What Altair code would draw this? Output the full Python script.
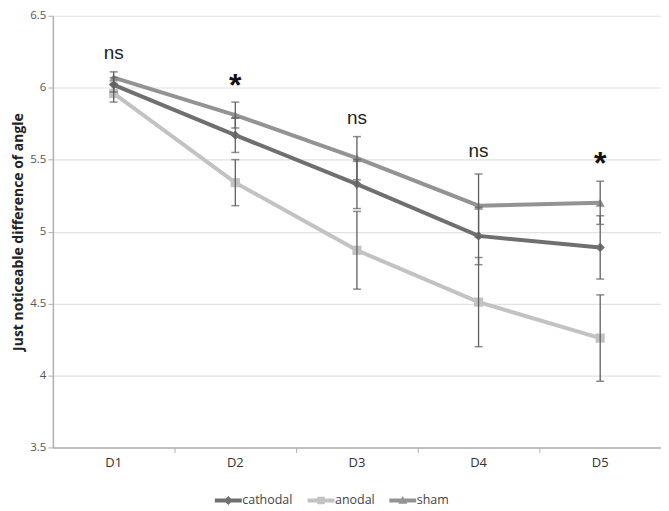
import altair as alt
import pandas as pd

days = ["D1", "D2", "D3", "D4", "D5"]
series_names = ["cathodal", "anodal", "sham"]
cathodal_mean = [6.02, 5.67, 5.33, 4.97, 4.89]
cathodal_err = [0.05, 0.12, 0.17, 0.20, 0.22]
anodal_mean = [5.96, 5.34, 4.87, 4.51, 4.26]
anodal_err = [0.06, 0.16, 0.27, 0.31, 0.30]
sham_mean = [6.07, 5.81, 5.51, 5.18, 5.20]
sham_err = [0.04, 0.09, 0.15, 0.22, 0.15]
ann_text = ["ns", "*", "ns", "ns", "*"]
ann_y = [6.24, 6.03, 5.79, 5.56, 5.49]

rows = []
for name, means, errs in [("cathodal", cathodal_mean, cathodal_err),
                          ("anodal", anodal_mean, anodal_err),
                          ("sham", sham_mean, sham_err)]:
    for d, m, e in zip(days, means, errs):
        rows.append({"day": d, "series": name, "mean": m, "lo": m - e, "hi": m + e})
df = pd.DataFrame(rows)
ann = pd.DataFrame({"day": days, "text": ann_text, "y": ann_y,
                    "star": [t == "*" for t in ann_text]})

colors = ["#6f6f6f", "#c2c2c2", "#939393"]
shapes = ["diamond", "square", "triangle-up"]
line_bar = "M-1.35,-0.2H1.35V0.2H-1.35Z"
legend_shapes = [
    line_bar + " M0,-0.45L0.45,0L0,0.45L-0.45,0Z",
    line_bar + " M-0.38,-0.38H0.38V0.38H-0.38Z",
    line_bar + " M0,-0.45L0.45,0.32H-0.45Z",
]

xscale = alt.Scale(domain=days, paddingInner=0, paddingOuter=0)
yscale = alt.Scale(domain=[3.5, 6.5], nice=False, zero=False)
color_nol = alt.Color("series:N", scale=alt.Scale(domain=series_names, range=colors),
                      legend=None)
shape_nol = alt.Shape("series:N", scale=alt.Scale(domain=series_names, range=shapes),
                      legend=None)
xn = alt.X("day:N", scale=xscale, sort=days, axis=None)

x_labels = alt.X("day:N", scale=xscale, sort=days,
                 axis=alt.Axis(title=None, labelAngle=0, ticks=False, labelFontSize=13,
                               labelColor="#333", labelFont="Open Sans", labelPadding=9,
                               domainColor="#b0b0b0", domainWidth=1.5, orient="bottom"))
y_enc = alt.Y("mean:Q", scale=yscale,
              axis=alt.Axis(title="Just noticeable difference of angle",
                            values=[3.5, 4, 4.5, 5, 5.5, 6, 6.5], format="~g",
                            labelFontSize=11.5, labelColor="#555", labelFont="Open Sans",
                            titleFontSize=14, titleFontWeight="bold", titleColor="#222",
                            titleFont="Open Sans", titlePadding=4,
                            domainColor="#b0b0b0", domainWidth=1.5, tickColor="#b0b0b0",
                            tickSize=5, gridColor="#e2e2e2", gridWidth=1.2))

base = alt.Chart(df)

lines = base.mark_line(strokeWidth=4).encode(x=x_labels, y=y_enc, color=color_nol,
                                              detail="series:N")
points = base.mark_point(filled=True, size=85, opacity=1).encode(
    x=xn, y=alt.Y("mean:Q", scale=yscale), color=color_nol, shape=shape_nol)
rules = base.mark_rule(color="#5e5e5e", strokeWidth=1.3).encode(
    x=xn, y=alt.Y("lo:Q", scale=yscale), y2="hi:Q")
ticks_lo = base.mark_tick(color="#5e5e5e", thickness=1.5, size=8).encode(
    x=xn, y=alt.Y("lo:Q", scale=yscale))
ticks_hi = base.mark_tick(color="#5e5e5e", thickness=1.5, size=8).encode(
    x=xn, y=alt.Y("hi:Q", scale=yscale))

ns_text = alt.Chart(ann).transform_filter("!datum.star").mark_text(
    fontSize=19, font="Liberation Sans", color="#222", baseline="middle").encode(
    x=xn, y=alt.Y("y:Q", scale=yscale), text="text:N")
star_text = alt.Chart(ann).transform_filter("datum.star").mark_text(
    fontSize=32, font="Liberation Sans", fontWeight="bold", color="#111",
    baseline="middle", dy=3).encode(
    x=xn, y=alt.Y("y:Q", scale=yscale), text="text:N")

xticks = alt.Chart(pd.DataFrame({"day": days})).transform_filter("false").mark_tick().encode(
    x=alt.X("day:N", scale=xscale, sort=days,
            axis=alt.Axis(title=None, labels=False, bandPosition=1, ticks=True,
                          tickSize=5, tickColor="#b0b0b0", domain=False, grid=False,
                          orient="bottom")))

leg = alt.Legend(title=None, orient="none", direction="horizontal",
                 legendX=166, legendY=476, labelFontSize=12.5,
                 labelColor="#444", labelFont="Open Sans",
                 symbolSize=400, labelOffset=4, columnPadding=14,
                 symbolStrokeWidth=0)
legend_layer = base.transform_filter("false").mark_point(filled=True, opacity=1).encode(
    x=xn, y=alt.Y("mean:Q", scale=yscale),
    color=alt.Color("series:N", scale=alt.Scale(domain=series_names, range=colors),
                    legend=leg),
    shape=alt.Shape("series:N", scale=alt.Scale(domain=series_names, range=legend_shapes),
                    legend=leg))

chart = alt.layer(lines, points, rules, ticks_lo, ticks_hi, ns_text, star_text, xticks,
                  legend_layer).resolve_axis(x="independent").resolve_scale(
    shape="independent", color="independent").properties(
    width=610, height=433,
    autosize=alt.AutoSizeParams(type="none"),
    padding={"left": 45, "top": 7, "right": 0, "bottom": 63},
).configure_view(stroke=None).configure_axisX(grid=False)

chart.save("out.html", embed_options={"renderer": "svg", "actions": False})
